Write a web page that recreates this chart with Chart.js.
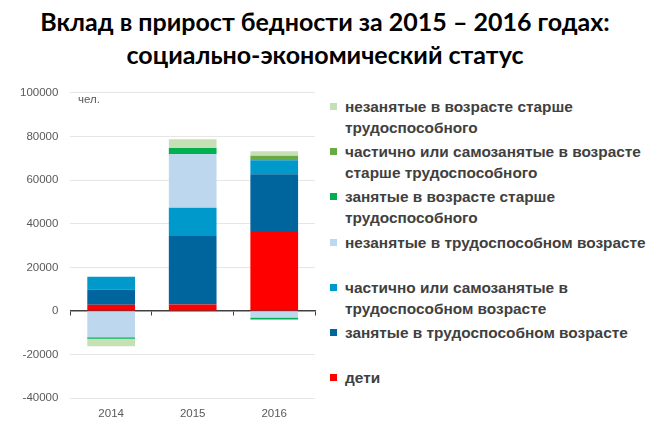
<!DOCTYPE html>
<html>
<head>
<meta charset="utf-8">
<script src="https://cdn.jsdelivr.net/npm/chart.js@4"></script>
<style>
  html, body { margin: 0; padding: 0; background: #fff; }
  body { width: 650px; height: 432px; position: relative; overflow: hidden; font-family: "Liberation Sans", Arial, sans-serif; }
  #title { position: absolute; left: 0; top: 5px; width: 650px; text-align: center; font-family: Lato, sans-serif; font-weight: bold; font-size: 25px; line-height: 33px; color: #000; }
  #chart-box { position: absolute; left: 0; top: 74px; width: 330px; height: 358px; }
  #unit { position: absolute; left: 78px; top: 93px; font-size: 11.5px; color: #595959; }
  #legend { position: absolute; left: 330px; top: 96px; width: 320px; }
  .item { position: relative; height: 45.2px; }
  .item .box { position: absolute; left: 0; top: 7px; width: 7px; height: 7px; }
  .item .txt { position: absolute; left: 15px; top: 0; white-space: pre-line; font-weight: bold; font-size: 15.4px; line-height: 21px; color: #404040; }
</style>
</head>
<body>
<div id="title">Вклад в прирост бедности за 2015 – 2016 годах:<br>социально-экономический статус</div>
<div id="chart-box"><canvas id="poverty-chart"></canvas></div>
<div id="unit">чел.</div>
<div id="legend"></div>
<script>
const years = ['2014', '2015', '2016'];

const seriesNames = [
    'дети',
    'занятые в трудоспособном возрасте',
    'частично или самозанятые в\nтрудоспособном возрасте',
    'незанятые в трудоспособном возрасте',
    'занятые в возрасте старше\nтрудоспособного',
    'частично или самозанятые в возрасте\nстарше трудоспособного',
    'незанятые в возрасте старше\nтрудоспособного'
];

const children = [2900, 3000, 36200];
const employedWorking = [6800, 31400, 26500];
const partialWorking = [6000, 12900, 6400];
const unemployedWorking = [-12000, 24700, -3000];
const employedOlder = [-700, 2700, -900];
const partialOlder = [0, 0, 2100];
const unemployedOlder = [-3500, 4100, 2000];

const yTicks = [-40000, -20000, 0, 20000, 40000, 60000, 80000, 100000];

const colors = ['#ff0000', '#00659c', '#0099cc', '#bdd7ee', '#00b050', '#6aaa44', '#c5e0b4'];

const seriesValues = [children, employedWorking, partialWorking, unemployedWorking,
    employedOlder, partialOlder, unemployedOlder];

const chartData = {
    labels: years,
    datasets: seriesValues.map((values, i) => ({
        label: seriesNames[i],
        data: values,
        backgroundColor: colors[i],
        borderWidth: 0,
        categoryPercentage: 1,
        barPercentage: 0.585
    }))
};

const chart = new Chart(document.getElementById('poverty-chart'), {
    type: 'bar',
    data: chartData,
    options: {
        responsive: true,
        maintainAspectRatio: false,
        animation: false,
        layout: {
            padding: { left: 8, right: 15, top: 5, bottom: 2 }
        },
        plugins: {
            legend: { display: false },
            tooltip: { enabled: false }
        },
        scales: {
            x: {
                stacked: true,
                grid: { display: false, drawTicks: false },
                border: { display: false },
                ticks: {
                    color: '#595959',
                    padding: 9,
                    font: { family: 'Liberation Sans', size: 11.5 }
                }
            },
            x2: {
                type: 'category',
                labels: years,
                position: { y: 0 },
                offset: true,
                grid: {
                    offset: true,
                    drawOnChartArea: false,
                    drawTicks: true,
                    tickLength: 4,
                    color: '#404040',
                    lineWidth: 1
                },
                border: { display: true, color: '#404040', width: 1.5 },
                ticks: { display: false }
            },
            y: {
                stacked: true,
                min: yTicks[0],
                max: yTicks[yTicks.length - 1],
                afterBuildTicks: axis => {
                    axis.ticks = yTicks.map(v => ({ value: v }));
                },
                grid: { color: '#e6e6e6', drawTicks: false },
                border: { display: false },
                ticks: {
                    color: '#595959',
                    padding: 12,
                    font: { family: 'Liberation Sans', size: 11.5 },
                    callback: value => String(value)
                }
            }
        }
    }
});

// legend, top item = last series
const legend = document.getElementById('legend');
chart.data.datasets.slice().reverse().forEach(ds => {
    const item = document.createElement('div');
    item.className = 'item';
    const box = document.createElement('span');
    box.className = 'box';
    box.style.background = ds.backgroundColor;
    const txt = document.createElement('span');
    txt.className = 'txt';
    txt.textContent = ds.label;
    item.appendChild(box);
    item.appendChild(txt);
    legend.appendChild(item);
});
</script>
</body>
</html>
